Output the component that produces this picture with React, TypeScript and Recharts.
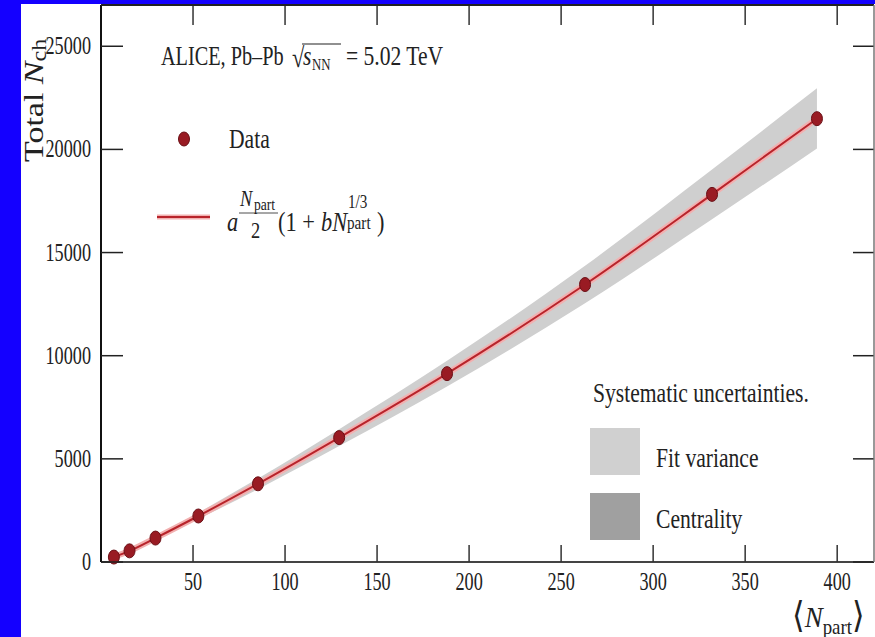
import React from 'react';
import { ComposedChart, XAxis, YAxis, Area, Line, Scatter } from 'recharts';

// values
const NPART = [7, 15.5, 29.6, 52.9, 85.3, 129.4, 188, 263, 332, 389];
const NCH = [240, 540, 1160, 2230, 3790, 6030, 9130, 13450, 17820, 21490];
const BAND_LOW = [220, 500, 1080, 2080, 3530, 5620, 8510, 12540, 16610, 20050];
const BAND_HIGH = [260, 580, 1240, 2390, 4050, 6440, 9750, 14360, 19030, 22960];
const X_TICKS = [50, 100, 150, 200, 250, 300, 350, 400];
const Y_TICKS = [0, 5000, 10000, 15000, 20000, 25000];

const W = 875;
const H = 637;
const PLOT_L = 101;
const PLOT_R = 874;
const PLOT_T = 5;
const PLOT_B = 562;
const TICK = 20;
const SERIF = '"Liberation Serif", "DejaVu Serif", serif';
const INK = '#222';

const data = NPART.map((x, i) => ({
    x,
    y: NCH[i],
    band: [BAND_LOW[i], BAND_HIGH[i]],
}));

type STextProps = {
    x: number;
    y: number;
    size?: number;
    sx?: number;
    anchor?: 'start' | 'middle' | 'end';
    italic?: boolean;
    children: React.ReactNode;
};

const SText = ({ x, y, size = 26, sx = 0.8, anchor = 'start', italic, children }: STextProps) => (
    <text
        transform={`translate(${x},${y}) scale(${sx},1)`}
        fontSize={size}
        fontFamily={SERIF}
        fill={INK}
        textAnchor={anchor}
        fontStyle={italic ? 'italic' : 'normal'}
    >
        {children}
    </text>
);

const XTick = (props: any) => {
    const { x, payload } = props;
    return (
        <g>
            <line x1={x} x2={x} y1={PLOT_B} y2={PLOT_B - TICK + 3} stroke="#333" strokeWidth={1.5} />
            <line x1={x} x2={x} y1={PLOT_T} y2={PLOT_T + TICK} stroke="#333" strokeWidth={1.5} />
            <SText x={x} y={590} size={26} sx={0.7} anchor="middle">{payload.value}</SText>
        </g>
    );
};

const YTick = (props: any) => {
    const { y, payload } = props;
    return (
        <g>
            <line x1={PLOT_L} x2={PLOT_L + TICK + 2} y1={y} y2={y} stroke="#222" strokeWidth={1.5} />
            <line x1={PLOT_R} x2={PLOT_R - TICK - 1} y1={y} y2={y} stroke="#222" strokeWidth={1.5} />
            <SText x={91} y={y + 8} size={26} sx={0.7} anchor="end">{payload.value}</SText>
        </g>
    );
};

const Dot = (p: any) => (
    <ellipse cx={p.cx} cy={p.cy} rx={5.5} ry={7} fill="#991b23" stroke="#6a1016" strokeWidth={1} />
);

const Overlay = () => (
    <svg width={W} height={H} style={{ position: 'absolute', left: 0, top: 0, pointerEvents: 'none' }}>
        {/* frame: top and right */}
        <line x1={PLOT_L} x2={PLOT_R} y1={PLOT_T} y2={PLOT_T} stroke="#222" strokeWidth={2} />
        <line x1={PLOT_R} x2={PLOT_R} y1={PLOT_T} y2={PLOT_B} stroke="#777" strokeWidth={1.5} />

        {/* title */}
        <SText x={161} y={65} size={27} sx={0.75}>ALICE, Pb–Pb</SText>
        <SText x={292} y={67} size={28}>√</SText>
        <line x1={302} x2={341} y1={44} y2={44} stroke={INK} strokeWidth={1.2} />
        <SText x={303} y={65} size={27} italic>s</SText>
        <SText x={312} y={70} size={16}>NN</SText>
        <SText x={346} y={65} size={27}>= 5.02 TeV</SText>

        {/* legend: data */}
        <ellipse cx={184} cy={139} rx={5.5} ry={7} fill="#991b23" stroke="#6a1016" strokeWidth={1} />
        <SText x={229} y={148} size={27}>Data</SText>

        {/* legend: fit */}
        <line x1={157} x2={210} y1={217} y2={217} stroke="#f2b0b0" strokeWidth={5} />
        <line x1={157} x2={210} y1={217} y2={217} stroke="#b8242b" strokeWidth={2} />
        <SText x={227} y={231} size={28} italic>a</SText>
        <SText x={240} y={206} size={23} italic>N</SText>
        <SText x={254} y={210} size={17}>part</SText>
        <line x1={239} x2={278} y1={213} y2={213} stroke={INK} strokeWidth={0.8} />
        <SText x={251} y={238} size={23}>2</SText>
        <SText x={278} y={231} size={28}>(1 + </SText>
        <SText x={321} y={231} size={28} italic>bN</SText>
        <SText x={348} y={208} size={19}>1/3</SText>
        <SText x={347} y={229} size={19}>part</SText>
        <SText x={377} y={231} size={28}>)</SText>

        {/* systematic uncertainties legend */}
        <SText x={593} y={402} size={27} sx={0.8}>Systematic uncertainties.</SText>
        <rect x={590} y={428} width={50} height={47} fill="#d0d0d0" />
        <SText x={656} y={467} size={27} sx={0.8}>Fit variance</SText>
        <rect x={590} y={493} width={50} height={47} fill="#a0a0a0" />
        <SText x={656} y={528} size={27} sx={0.8}>Centrality</SText>

        {/* x axis title */}
        <text transform="translate(792,627) scale(0.9,1)" fontFamily={SERIF} fill={INK} fontSize={30}>
            <tspan fontSize={36}>⟨</tspan>
            <tspan fontStyle="italic">N</tspan>
            <tspan fontSize={21} dy={7}>part</tspan>
            <tspan fontSize={36} dy={-7}>⟩</tspan>
        </text>

        {/* y axis title */}
        <text transform="translate(43,162) scale(0.83,1) rotate(-90)" fontFamily={SERIF} fill={INK} fontSize={34}>
            <tspan>Total </tspan>
            <tspan fontStyle="italic">N</tspan>
            <tspan fontSize={24} dy={4}>ch</tspan>
        </text>
    </svg>
);

export default function App() {
    return (
        <div style={{ position: 'fixed', left: 0, top: 0, width: W, height: H, background: '#fff', overflow: 'hidden' }}>
            <div style={{ position: 'absolute', left: 0, top: 0, width: 21, height: H, background: '#1400ff' }} />
            <div style={{ position: 'absolute', left: 0, top: 0, width: W, height: 4, background: '#1400ff' }} />
            <div style={{ position: 'absolute', left: 0, top: 0 }}>
                <ComposedChart width={W} height={H} data={data} margin={{ top: PLOT_T, right: W - PLOT_R, bottom: 0, left: 0 }}>
                    <XAxis
                        type="number"
                        dataKey="x"
                        domain={[0, 420]}
                        ticks={X_TICKS}
                        height={H - PLOT_B}
                        tickLine={false}
                        tickSize={0}
                        tickMargin={10}
                        axisLine={{ stroke: '#444', strokeWidth: 2 }}
                        tick={XTick}
                        interval={0}
                    />
                    <YAxis
                        type="number"
                        domain={[0, 27000]}
                        ticks={Y_TICKS}
                        width={PLOT_L}
                        tickLine={false}
                        tickSize={0}
                        tickMargin={10}
                        axisLine={{ stroke: '#111', strokeWidth: 2 }}
                        tick={YTick}
                        interval={0}
                    />
                    <Area
                        type="monotone"
                        dataKey="band"
                        stroke="none"
                        fill="#cfcfcf"
                        fillOpacity={1}
                        isAnimationActive={false}
                    />
                    <Line type="monotone" dataKey="y" stroke="#f2b0b0" strokeWidth={6} dot={false} isAnimationActive={false} />
                    <Line type="monotone" dataKey="y" stroke="#b8242b" strokeWidth={2} dot={false} isAnimationActive={false} />
                    <Scatter dataKey="y" shape={Dot} isAnimationActive={false} />
                </ComposedChart>
            </div>
            <Overlay />
        </div>
    );
}
